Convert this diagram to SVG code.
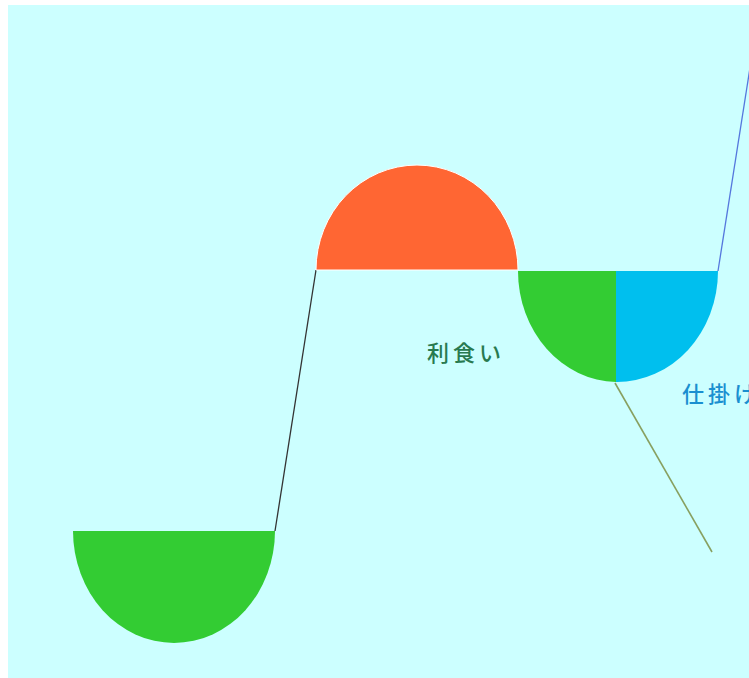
<svg xmlns="http://www.w3.org/2000/svg" width="749" height="678" viewBox="0 0 749 678">
<style>
.lbl{font-family:"Noto Sans CJK JP","Noto Sans CJK SC",sans-serif;font-size:22px;font-weight:500;letter-spacing:4px}
</style>
<rect width="749" height="678" fill="#ffffff"/>
<rect x="8" y="5" width="741" height="673" fill="#ccffff"/>
<g id="connectors" fill="none" stroke-width="1.3">
<line x1="275" y1="531" x2="316" y2="270" stroke="#333333"/>
<line x1="718" y1="271" x2="752" y2="55" stroke="#5577dd"/>
<line x1="615" y1="383" x2="712" y2="552" stroke="#88a060" stroke-width="1.6"/>
</g>
<g id="bottom-green">
<path d="M73,531 L275,531 A101,112 0 0 1 73,531 Z" fill="#33cc33"/>
</g>
<g id="top-orange">
<path d="M316,270 A101,105 0 0 1 518,270 Z" fill="#ff6633" stroke="#ffffff" stroke-width="1"/>
</g>
<g id="split-half">
<path d="M518,271 L616,271 L616,382 A100,111 0 0 1 518,271 Z" fill="#33cc33"/>
<path d="M616,271 L718,271 A101,111 0 0 1 616,382 Z" fill="#00bfee"/>
</g>
<g id="label-rishoku">
<text class="lbl" x="427" y="361" fill="#287a50">利食い</text>
</g>
<g id="label-shikake">
<text class="lbl" x="682" y="402" fill="#1a8fd0">仕掛け</text>
</g>
</svg>
